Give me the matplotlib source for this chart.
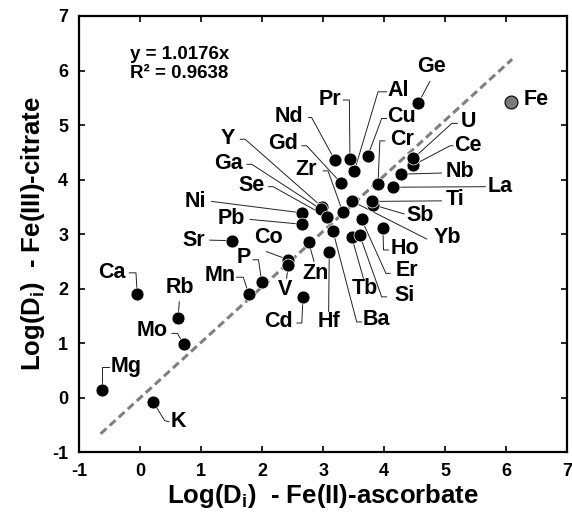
import numpy as np
import matplotlib
matplotlib.use("Agg")
import matplotlib.pyplot as plt

plt.rcParams["font.family"] = ["Liberation Sans", "DejaVu Sans"]
plt.rcParams["font.weight"] = "bold"
plt.rcParams["mathtext.fontset"] = "custom"
plt.rcParams["mathtext.rm"] = "Liberation Sans:bold"
plt.rcParams["mathtext.bf"] = "Liberation Sans:bold"
plt.rcParams["axes.unicode_minus"] = False

# log partition coefficients: Fe(II)-ascorbate (x) vs Fe(III)-citrate (y)
elements = ["Ge", "Al", "Pr", "Cu", "Nd", "Gd", "Cr", "Zr", "Y", "Ga", "Se",
            "Ni", "Pb", "Sr", "Co", "P", "Mn", "V", "Zn", "Cd", "Hf", "Ba",
            "Tb", "Si", "Er", "Ho", "Yb", "Sb", "Ti", "La", "Nb", "Ce", "U",
            "Ca", "Rb", "Mo", "Mg", "K"]
x_asc = [4.56, 3.51, 3.44, 3.73, 3.19, 3.30, 3.90, 3.32, 2.98, 2.96, 3.06,
         2.65, 2.66, 1.50, 2.43, 1.99, 1.78, 2.43, 2.76, 2.67, 3.10, 3.16,
         3.47, 3.60, 3.63, 3.98, 3.48, 3.81, 3.80, 4.15, 4.27, 4.47, 4.48,
         -0.05, 0.62, 0.71, -0.63, 0.21]
y_cit = [5.40, 4.15, 4.37, 4.43, 4.36, 3.93, 3.92, 3.41, 3.50, 3.46, 3.32,
         3.39, 3.18, 2.88, 2.53, 2.13, 1.90, 2.43, 2.86, 1.85, 2.68, 3.06,
         2.94, 2.98, 3.27, 3.11, 3.60, 3.54, 3.60, 3.86, 4.10, 4.26, 4.39,
         1.90, 1.46, 0.99, 0.14, -0.07]
fe_x, fe_y = 6.08, 5.43

slope = 1.0176
r2 = 0.9638
fit_x = [-0.65, 6.10]

# label placement: text centre, then leader vertices from the label side
labels = {
    "Ge": ((4.78, 6.07), [(4.75, 5.80)]),
    "Al": ((4.23, 5.64), [(3.90, 5.61), (4.04, 5.61)]),
    "Pr": ((3.11, 5.47), [(3.43, 5.46), (3.33, 5.46)]),
    "Cu": ((4.29, 5.15), [(3.96, 5.12), (4.04, 5.12)]),
    "Nd": ((2.44, 5.15), [(2.81, 5.14), (2.76, 5.14)]),
    "Gd": ((2.35, 4.67), [(2.73, 4.62), (2.65, 4.62)]),
    "Cr": ((4.29, 4.73), [(3.93, 4.71), (4.01, 4.71)]),
    "Zr": ((2.72, 4.18), [(3.08, 4.16), (3.00, 4.16)]),
    "Y": ((1.44, 4.76), [(1.72, 4.74), (1.64, 4.74)]),
    "Ga": ((1.44, 4.30), [(1.83, 4.28), (1.75, 4.28)]),
    "Se": ((1.83, 3.90), [(2.18, 3.87), (2.10, 3.87)]),
    "Ni": ((0.90, 3.60), [(1.17, 3.60)]),
    "Pb": ((1.50, 3.29), [(1.80, 3.27)]),
    "Sr": ((0.87, 2.89), [(1.14, 2.89)]),
    "Co": ((2.10, 2.94), [(2.07, 2.68)]),
    "P": ((1.69, 2.58), [(1.94, 2.53), (1.85, 2.53)]),
    "Mn": ((1.31, 2.25), [(1.69, 2.21), (1.58, 2.21)]),
    "V": ((2.37, 1.98), [(2.40, 2.19)]),
    "Zn": ((2.87, 2.28), [(2.85, 2.50)]),
    "Cd": ((2.26, 1.40), [(2.65, 1.37), (2.57, 1.37)]),
    "Hf": ((3.09, 1.40), [(3.09, 1.58)]),
    "Ba": ((3.88, 1.43), [(3.55, 1.39), (3.63, 1.39)]),
    "Tb": ((3.69, 2.01), [(3.66, 2.19)]),
    "Si": ((4.34, 1.88), [(3.96, 1.85), (4.04, 1.85)]),
    "Er": ((4.37, 2.34), [(4.03, 2.28), (4.10, 2.28)]),
    "Ho": ((4.34, 2.74), [(3.99, 2.71), (4.07, 2.71)]),
    "Yb": ((5.03, 2.94), [(4.70, 2.91)]),
    "Sb": ((4.59, 3.35), [(4.33, 3.37)]),
    "Ti": ((5.16, 3.63), [(4.94, 3.61)]),
    "La": ((5.90, 3.87), [(5.66, 3.87)]),
    "Nb": ((5.24, 4.15), [(4.94, 4.12)]),
    "Ce": ((5.38, 4.63), [(5.08, 4.62), (5.13, 4.62)]),
    "U": ((5.38, 5.06), [(5.11, 5.03), (5.20, 5.03)]),
    "Ca": ((-0.46, 2.29), [(-0.07, 2.29), (-0.18, 2.29)]),
    "Rb": ((0.65, 2.03), [(0.64, 1.76)]),
    "Mo": ((0.19, 1.24), [(0.61, 1.18), (0.52, 1.18)]),
    "Mg": ((-0.23, 0.57), [(-0.63, 0.57), (-0.52, 0.57)]),
    "K": ((0.62, -0.44), [(0.40, -0.42), (0.47, -0.44)]),
}

fig = plt.figure(figsize=(5.72, 5.21), dpi=100)
ax = fig.add_axes([0.1386, 0.1319, 0.8527, 0.8374])

fx = np.array(fit_x)
ax.plot(fx, slope * fx, color="#808080", lw=2.2, dashes=(2.6, 1.4), zorder=2)

for el, px, py in zip(elements, x_asc, y_cit):
    (tx, ty), path = labels[el]
    vx = [px] + [p[0] for p in path]
    vy = [py] + [p[1] for p in path]
    ax.plot(vx, vy, color="#222222", lw=0.7, zorder=1)
    ax.text(tx, ty, el, ha="center", va="center", fontsize=15.5, fontweight="bold")

ax.plot(x_asc, y_cit, "o", color="black", ms=9.3, mec="white", mew=0.5, zorder=3)
ax.plot([fe_x], [fe_y], "o", color="#7a7a7a", ms=9.3, mec="black", mew=0.8, zorder=3)
ax.text(6.49, 5.46, "Fe", ha="center", va="center", fontsize=15.5, fontweight="bold")

ax.text(-0.16, 6.29, f"y = {slope}x", ha="left", va="center", fontsize=13.5, fontweight="bold")
ax.text(-0.16, 5.95, f"R² = {r2}", ha="left", va="center", fontsize=13.5, fontweight="bold")

ax.set_xlim(-1, 7)
ax.set_ylim(-1, 7)
ax.set_xticks(range(-1, 8))
ax.set_yticks(range(-1, 8))
ax.tick_params(direction="in", length=4.5, width=1.2, labelsize=13, top=True, right=True, pad=8)
for lab in ax.get_xticklabels() + ax.get_yticklabels():
    lab.set_fontweight("bold")
for sp in ax.spines.values():
    sp.set_linewidth(1.6)

ax.set_xlabel(r"Log(D$_\mathrm{i}$)  - Fe(II)-ascorbate", fontsize=18.5, fontweight="bold", labelpad=1)
ax.set_ylabel(r"Log(D$_\mathrm{i}$)  - Fe(III)-citrate", fontsize=18.5, fontweight="bold", labelpad=3.5)

fig.savefig("out.png", dpi=100)
